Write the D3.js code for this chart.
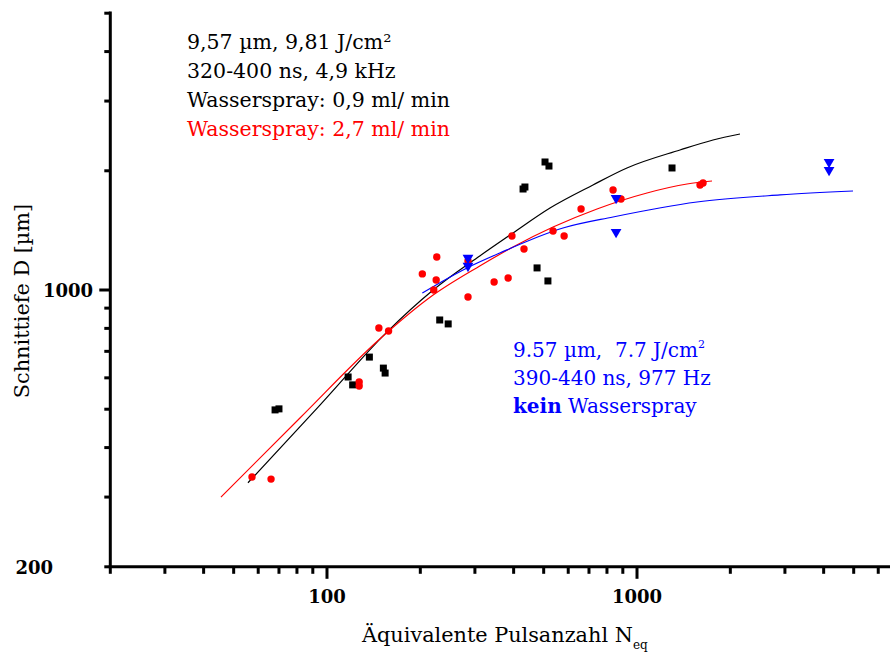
<!DOCTYPE html>
<html>
<head>
<meta charset="utf-8">
<script src="https://cdn.jsdelivr.net/npm/d3@7"></script>
<style>
  body { margin: 0; background: #fff; }
  svg text { font-family: "DejaVu Serif", serif; }
</style>
</head>
<body>
<div id="graph"></div>
<script>
// pulse count N_eq and cut depth D (µm)
var blackN = [68, 70, 117, 121, 137, 152, 154, 231, 246, 429, 435, 476, 505, 520, 516, 1297]
var blackD = [498, 501, 603, 576, 677, 635, 617, 840, 821, 1799, 1820, 1137, 2105, 2056, 1054, 2033]

var redN = [57.3, 66, 127, 127, 147, 158, 203, 221, 225, 226, 285, 285, 346, 384, 395, 432, 536, 582, 660, 837, 888, 1597, 1633]
var redD = [337, 333, 586, 572, 802, 788, 1098, 1000, 1060, 1212, 1184, 960, 1048, 1072, 1369, 1269, 1409, 1369, 1602, 1789, 1697, 1842, 1863]

var blueN = [285, 285, 856, 856, 4164, 4164]
var blueD = [1205, 1150, 1707, 1401, 2105, 2009]

// fitted curves
var blackFitN = [55.6, 94.9, 156, 220, 311, 398, 524, 721, 928, 1376, 1759, 2149]
var blackFitD = [326, 512, 783, 1000, 1219, 1393, 1611, 1842, 2033, 2257, 2392, 2477]

var redFitN = [45.5, 81.8, 148, 220, 311, 398, 536, 743, 1077, 1450, 1746]
var redFitD = [300, 475, 752, 971, 1150, 1284, 1442, 1602, 1758, 1852, 1885]

var blueFitN = [203, 283, 361, 577, 837, 1561, 2893, 4975]
var blueFitD = [983, 1137, 1240, 1434, 1529, 1668, 1738, 1778]

var xTicksMajor = [100, 1000]
var xTicksMinor = [20, 30, 40, 50, 60, 70, 80, 90, 200, 300, 400, 500, 600, 700, 800, 900, 2000, 3000, 4000, 5000, 6000]
var yTicksMajor = [1000]
var yTicksMinor = [200, 300, 400, 500, 600, 700, 800, 900, 2000, 3000, 4000, 5000]
var yTickLabels = [200, 1000]

var w = 890, h = 653

var svg = d3.select('#graph')
  .append('svg')
  .attr('width', w)
  .attr('height', h)

var x = d3.scaleLog()
  .domain([20, 7000])
  .range([110.3, 899])

var y = d3.scaleLog()
  .domain([200, 5000])
  .range([566.8, 13.2])

var x0 = x(20), y0 = y(200)

// axes
var ax = svg.append('g').attr('stroke', '#000').attr('stroke-width', 3)

ax.append('line')
  .attr('x1', x0).attr('x2', x0)
  .attr('y1', y0).attr('y2', 11.5)
ax.append('line')
  .attr('x1', x0 - 1.5).attr('x2', w)
  .attr('y1', y0).attr('y2', y0)

ax.selectAll('.xmin').data(xTicksMinor).enter().append('line')
  .attr('x1', d => x(d)).attr('x2', d => x(d))
  .attr('y1', y0).attr('y2', y0 + 7)
ax.selectAll('.xmaj').data(xTicksMajor).enter().append('line')
  .attr('x1', d => x(d)).attr('x2', d => x(d))
  .attr('y1', y0).attr('y2', y0 + 12)

ax.selectAll('.ymin').data(yTicksMinor).enter().append('line')
  .attr('x1', x0).attr('x2', x0 - 6)
  .attr('y1', d => y(d)).attr('y2', d => y(d))
ax.selectAll('.ymaj').data(yTicksMajor).enter().append('line')
  .attr('x1', x0).attr('x2', x0 - 11)
  .attr('y1', d => y(d)).attr('y2', d => y(d))

// tick labels
svg.selectAll('.xl').data(xTicksMajor).enter().append('text')
  .attr('x', d => x(d))
  .attr('y', 603)
  .attr('text-anchor', 'middle')
  .style('font-weight', 'bold')
  .style('font-size', '18px')
  .text(d => d)

svg.selectAll('.yl').data(yTickLabels).enter().append('text')
  .attr('x', d => d == 200 ? 53 : 93)
  .attr('y', d => y(d) + 7)
  .attr('text-anchor', 'end')
  .style('font-weight', 'bold')
  .style('font-size', '18px')
  .text(d => d)

// axis titles
var xt = svg.append('text')
  .attr('x', 362)
  .attr('y', 642)
  .style('font-size', '20.8px')
xt.append('tspan').text('Äquivalente Pulsanzahl N')
xt.append('tspan').attr('dy', 7).style('font-size', '12px').text('eq')

svg.append('text')
  .attr('transform', 'translate(29,301) rotate(-90)')
  .attr('text-anchor', 'middle')
  .style('font-size', '20.8px')
  .text('Schnittiefe D [µm]')

// fit curves
function fitLine(ns, ds) {
  return d3.line()
    .x(d => x(d[0]))
    .y(d => y(d[1]))
    .curve(d3.curveMonotoneX)(d3.zip(ns, ds))
}

svg.append('path').attr('d', fitLine(blackFitN, blackFitD))
  .attr('fill', 'none').attr('stroke', '#000').attr('stroke-width', 1.2)
svg.append('path').attr('d', fitLine(redFitN, redFitD))
  .attr('fill', 'none').attr('stroke', '#ff0000').attr('stroke-width', 1.2)
svg.append('path').attr('d', fitLine(blueFitN, blueFitD))
  .attr('fill', 'none').attr('stroke', '#0000ff').attr('stroke-width', 1.2)

// markers
svg.append('g').selectAll('rect')
  .data(d3.zip(blackN, blackD))
  .enter().append('rect')
  .attr('x', d => x(d[0]) - 3.5)
  .attr('y', d => y(d[1]) - 3.5)
  .attr('width', 7).attr('height', 7)
  .attr('fill', '#000')

svg.append('g').selectAll('circle')
  .data(d3.zip(redN, redD))
  .enter().append('circle')
  .attr('cx', d => x(d[0]))
  .attr('cy', d => y(d[1]))
  .attr('r', 3.7)
  .attr('fill', '#ff0000')

var tri = d3.symbol().type(d3.symbolTriangle).size(50)
svg.append('g').selectAll('path')
  .data(d3.zip(blueN, blueD))
  .enter().append('path')
  .attr('d', tri)
  .attr('transform', d => 'translate(' + x(d[0]) + ',' + y(d[1]) + ') rotate(180)')
  .attr('fill', '#0000ff')

// annotations
var black = ['9,57 µm, 9,81 J/cm²', '320-400 ns, 4,9 kHz', 'Wasserspray: 0,9 ml/ min']
svg.selectAll('.ann').data(black).enter().append('text')
  .attr('x', 187)
  .attr('y', (d, i) => 49 + i * 29)
  .style('font-size', '20.5px')
  .text(d => d)
svg.append('text')
  .attr('x', 187).attr('y', 49 + 3 * 29)
  .style('font-size', '20.5px')
  .attr('fill', '#ff0000')
  .text('Wasserspray: 2,7 ml/ min')

var bl = svg.append('g').attr('fill', '#0000ff').style('font-size', '20px')
var b1 = bl.append('text').attr('x', 513).attr('y', 357).style('white-space', 'pre')
b1.append('tspan').text('9.57 µm,  7.7 J/cm')
b1.append('tspan').attr('dy', -9).style('font-size', '11px').text('2')
bl.append('text').attr('x', 513).attr('y', 385).text('390-440 ns, 977 Hz')
var b3 = bl.append('text').attr('x', 513).attr('y', 413)
b3.append('tspan').style('font-weight', 'bold').text('kein')
b3.append('tspan').text(' Wasserspray')
</script>
</body>
</html>
